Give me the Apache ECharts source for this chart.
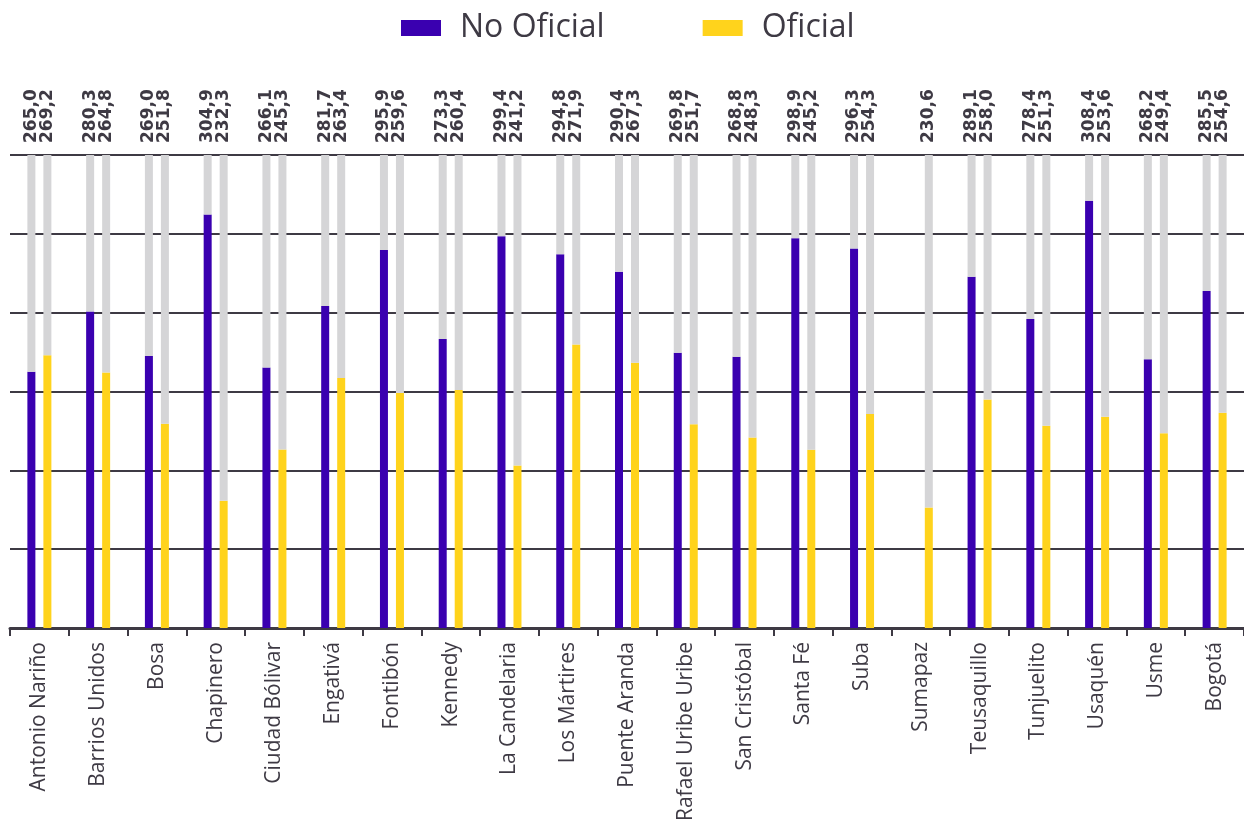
<!DOCTYPE html>
<html>
<head>
<meta charset="utf-8">
<script src="https://cdn.jsdelivr.net/npm/echarts@6/dist/echarts.min.js"></script>
<style>
html,body{margin:0;padding:0;background:#fff;}
#chart{width:1244px;height:834px;}
</style>
</head>
<body>
<div id="chart"></div>
<script>
const categories = ["Antonio Nariño","Barrios Unidos","Bosa","Chapinero","Ciudad Bólivar","Engativá","Fontibón","Kennedy","La Candelaria","Los Mártires","Puente Aranda","Rafael Uribe Uribe","San Cristóbal","Santa Fé","Suba","Sumapaz","Teusaquillo","Tunjuelito","Usaquén","Usme","Bogotá"];
const noOficial = [265.0,280.3,269.0,304.9,266.1,281.7,295.9,273.3,299.4,294.8,290.4,269.8,268.8,298.9,296.3,null,289.1,278.4,308.4,268.2,285.5];
const oficial = [269.2,264.8,251.8,232.3,245.3,263.4,259.6,260.4,241.2,271.9,267.3,251.7,248.3,245.2,254.3,230.6,258.0,251.3,253.6,249.4,254.6];
const axisMin = 200, axisMax = 320, axisStep = 20;

const purple = '#3a00b0', yellow = '#ffd31c', grey = '#d5d5d7', ink = '#3e3a44';
const fmt = v => v == null ? '' : v.toFixed(1).replace('.', ',');
const rest = arr => arr.map(v => v == null ? null : axisMax - v);

function valueLabel(src) {
  return {
    show: true, position: 'top', rotate: 90, align: 'left', verticalAlign: 'middle',
    distance: 12, color: ink, fontFamily: 'DejaVu Sans', fontWeight: 'bold', fontSize: 17,
    formatter: p => fmt(src[p.dataIndex])
  };
}

const chart = echarts.init(document.getElementById('chart'), null, {renderer: 'canvas'});
chart.setOption({
  animation: false,
  legend: {
    data: ['No Oficial', 'Oficial'],
    left: 396, top: 7,
    icon: 'rect', itemWidth: 40, itemHeight: 16, itemGap: 98,
    textStyle: {fontFamily: 'Open Sans', fontSize: 32, color: ink, padding: [0, 0, 0, 14]}
  },
  grid: {left: 10, right: 0, top: 155, bottom: 206, containLabel: false},
  xAxis: {
    type: 'category', data: categories,
    axisLine: {lineStyle: {color: ink, width: 3}},
    axisTick: {show: true, length: 8, lineStyle: {color: ink, width: 2}},
    axisLabel: {rotate: 90, interval: 0, margin: 14, fontFamily: 'Open Sans', fontSize: 21, color: ink}
  },
  yAxis: {
    type: 'value', min: axisMin, max: axisMax, interval: axisStep,
    axisLabel: {show: false}, axisLine: {show: false}, axisTick: {show: false},
    splitLine: {lineStyle: {color: ink, width: 2}}
  },
  series: [
    {name: 'No Oficial', type: 'bar', stack: 'no', data: noOficial, barWidth: 8, barGap: '100%', itemStyle: {color: purple}},
    {name: 'No Oficial resto', type: 'bar', stack: 'no', data: rest(noOficial), barWidth: 8, barGap: '100%', itemStyle: {color: grey}, label: valueLabel(noOficial)},
    {name: 'Oficial', type: 'bar', stack: 'of', data: oficial, barWidth: 8, barGap: '100%', itemStyle: {color: yellow}},
    {name: 'Oficial resto', type: 'bar', stack: 'of', data: rest(oficial), barWidth: 8, barGap: '100%', itemStyle: {color: grey}, label: valueLabel(oficial)}
  ]
});
</script>
</body>
</html>
